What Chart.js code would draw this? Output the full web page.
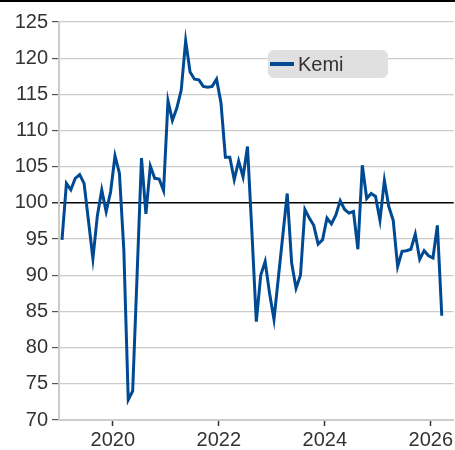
<!DOCTYPE html>
<html>
<head>
<meta charset="utf-8">
<script src="https://cdn.jsdelivr.net/npm/chart.js@4.4.1/dist/chart.umd.min.js"></script>
<style>
  html, body { margin: 0; padding: 0; background: #fff; }
</style>
</head>
<body>
<canvas id="chart" width="455" height="450"></canvas>
<script>
// monthly index values, Jan 2019 - Mar 2026
const startYear = 2019;
const seriesLabel = 'Kemi';
const kemi = [
  94.9, 102.7, 101.8, 103.4, 103.9, 102.7, 97.5, 92.3, 98.2, 101.8, 98.8, 101.5,
  106.5, 104.1, 93.5, 72.8, 74.0, 90.0, 106.2, 98.5, 105.1, 103.4, 103.3, 101.7,
  114.1, 111.4, 113.1, 115.6, 122.4, 118.1, 117.1, 117.0, 116.1, 116.0, 116.1, 117.1,
  113.8, 106.3, 106.3, 103.2, 105.8, 103.6, 107.8, 96.0, 83.6, 90.0, 91.9, 87.5,
  83.9, 89.7, 95.5, 101.3, 91.7, 88.2, 90.0, 99.1, 97.9, 96.9, 94.3, 94.9,
  97.9, 97.1, 98.3, 100.3, 99.1, 98.6, 98.8, 93.6, 105.2, 100.6, 101.3, 100.9,
  97.6, 103.1, 99.5, 97.6, 91.2, 93.3, 93.4, 93.6, 95.7, 92.2, 93.4, 92.7,
  92.4, 96.9, 84.4
];
const yearTicks = [2020, 2022, 2024, 2026];
const yTicks = [70, 75, 80, 85, 90, 95, 100, 105, 110, 115, 120, 125];

const fontFamily = "'Liberation Sans', Arial, Helvetica, sans-serif";
Chart.defaults.font.family = fontFamily;
Chart.defaults.font.size = 20;
Chart.defaults.color = '#333';

const points = kemi.map((v, i) => ({ x: startYear + (i + 0.5) / 12, y: v }));

const legendBox = {
  id: 'legendBox',
  afterDraw(chart) {
    const ctx = chart.ctx;
    const ds = chart.data.datasets[0];
    ctx.save();
    ctx.fillStyle = '#e0e0e0';
    ctx.beginPath();
    ctx.roundRect(268, 50, 120, 28, 6);
    ctx.fill();
    ctx.strokeStyle = ds.borderColor;
    ctx.lineWidth = 4;
    ctx.beginPath();
    ctx.moveTo(270, 64);
    ctx.lineTo(294, 64);
    ctx.stroke();
    ctx.fillStyle = '#333';
    ctx.font = '20px ' + fontFamily;
    ctx.textBaseline = 'middle';
    ctx.fillText(ds.label, 298, 65);
    // black rule along the top
    ctx.fillStyle = '#000';
    ctx.fillRect(0, 0, chart.width, 2);
    ctx.restore();
  }
};

new Chart(document.getElementById('chart'), {
  type: 'line',
  data: {
    datasets: [{
      label: seriesLabel,
      data: points,
      borderColor: '#004a94',
      borderWidth: 3,
      pointRadius: 0,
      tension: 0,
      fill: false
    }]
  },
  options: {
    responsive: false,
    animation: false,
    devicePixelRatio: 1,
    layout: { padding: { top: 22, left: 0, right: 0, bottom: 0 } },
    plugins: {
      legend: { display: false },
      tooltip: { enabled: false }
    },
    scales: {
      x: {
        type: 'linear',
        min: 2018.985,
        max: 2026.433,
        afterBuildTicks: scale => { scale.ticks = yearTicks.map(v => ({ value: v })); },
        afterFit: scale => { scale.height = 30; },
        ticks: {
          callback: v => String(v),
          padding: 2,
          maxRotation: 0
        },
        grid: {
          drawOnChartArea: false,
          drawTicks: true,
          tickLength: 6,
          tickColor: '#333',
          tickWidth: 1.5
        },
        border: { color: '#cccccc', width: 2 }
      },
      y: {
        min: 70,
        max: 125,
        afterBuildTicks: scale => { scale.ticks = yTicks.map(v => ({ value: v })); },
        afterFit: scale => { scale.width = 59; },
        ticks: { padding: 4 },
        grid: {
          color: c => c.tick && c.tick.value === 100 ? '#000' : '#cccccc',
          lineWidth: c => c.tick && c.tick.value === 100 ? 1.6 : 1.2,
          tickColor: c => c.tick && c.tick.value === 100 ? '#000' : '#555',
          tickLength: 7,
          tickWidth: 1.2
        },
        border: { color: '#cccccc', width: 2 }
      }
    }
  },
  plugins: [legendBox]
});
</script>
</body>
</html>
